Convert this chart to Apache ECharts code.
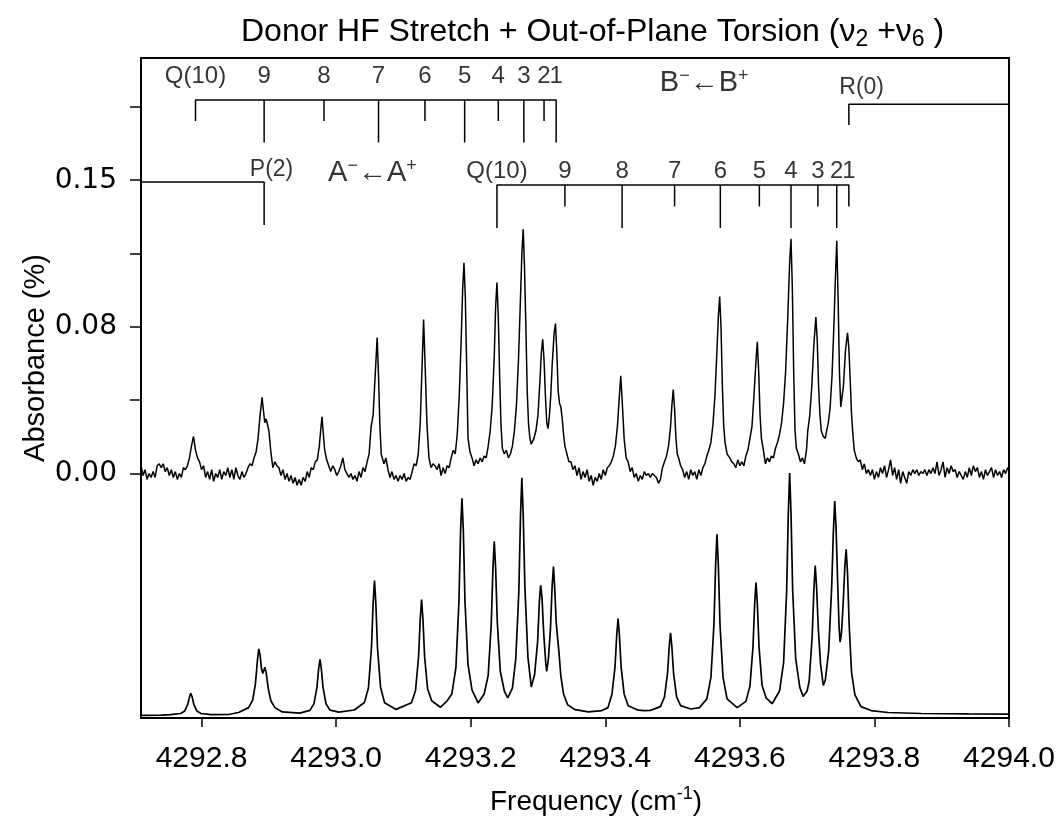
<!DOCTYPE html>
<html>
<head>
<meta charset="utf-8">
<script src="https://cdn.jsdelivr.net/npm/echarts@6/dist/echarts.min.js"></script>
<style>
html,body{margin:0;padding:0;background:#fff;}
#chart{width:1058px;height:824px;}
</style>
</head>
<body>
<div id="chart"></div>
<script>
// Axis ranges and tick labels
const freqMin = 4292.71, freqMax = 4294.0;
const absMin = -0.125, absMax = 0.2125;
const xTickValues = [4292.8, 4293.0, 4293.2, 4293.4, 4293.6, 4293.8, 4294.0];
const xTickLabels = ['4292.8', '4293.0', '4293.2', '4293.4', '4293.6', '4293.8', '4294.0'];
const yTickValues = [0, 0.075, 0.15];
const yTickLabels = ['0.00', '0.08', '0.15'];
const yMinorTicks = [0.0375, 0.1125, 0.1875];

// Observed spectrum: [frequency (cm-1), absorbance (%)]
const measured = [
  [4292.710,0.004],[4292.713,-0.001],[4292.716,0.002],[4292.719,-0.003],[4292.722,0.000],[4292.725,-0.002],
  [4292.728,0.001],[4292.731,-0.002],[4292.734,0.004],[4292.737,0.005],[4292.740,0.003],[4292.743,0.005],
  [4292.746,0.001],[4292.749,0.003],[4292.752,-0.001],[4292.755,0.002],[4292.758,-0.002],[4292.761,0.001],
  [4292.764,-0.003],[4292.767,0.000],[4292.770,-0.002],[4292.773,0.003],[4292.776,0.002],
  [4292.779,0.004],[4292.782,0.008],[4292.785,0.014],[4292.788,0.019],[4292.791,0.012],[4292.794,0.008],
  [4292.797,0.006],[4292.800,0.002],
  [4292.803,0.004],[4292.806,-0.002],[4292.809,0.001],[4292.812,-0.003],[4292.815,0.002],[4292.818,-0.004],
  [4292.821,0.000],[4292.824,-0.002],[4292.827,0.002],[4292.830,-0.003],[4292.833,0.001],[4292.836,-0.001],
  [4292.839,0.003],[4292.842,-0.002],[4292.845,0.002],[4292.848,-0.003],[4292.851,0.003],[4292.854,-0.001],
  [4292.857,-0.003],[4292.860,0.001],[4292.863,-0.002],[4292.866,0.000],[4292.869,0.003],[4292.872,0.005],
  [4292.875,0.004],[4292.878,0.008],[4292.881,0.011],[4292.884,0.018],[4292.887,0.030],[4292.890,0.039],
  [4292.892,0.032],[4292.894,0.026],[4292.896,0.028],[4292.898,0.027],[4292.900,0.022],[4292.903,0.011],
  [4292.906,0.003],[4292.909,0.006],
  [4292.912,0.004],[4292.915,0.003],[4292.918,-0.001],[4292.921,0.002],[4292.924,-0.003],[4292.927,0.000],
  [4292.930,-0.004],[4292.933,-0.001],[4292.936,-0.005],[4292.939,-0.002],[4292.942,-0.006],[4292.945,-0.003],
  [4292.948,-0.006],[4292.951,-0.002],[4292.954,-0.004],[4292.957,0.001],[4292.960,-0.002],[4292.963,0.003],
  [4292.966,0.002],[4292.969,0.006],[4292.972,0.007],[4292.975,0.014],[4292.977,0.022],[4292.979,0.029],
  [4292.981,0.020],[4292.983,0.012],[4292.986,0.007],[4292.989,0.004],
  [4292.992,0.001],[4292.995,0.004],[4292.998,0.002],[4293.001,-0.001],[4293.004,0.001],[4293.007,0.004],
  [4293.010,0.008],[4293.013,0.002],[4293.016,0.000],[4293.019,-0.002],[4293.022,0.000],[4293.025,-0.003],
  [4293.028,-0.001],[4293.031,-0.004],[4293.034,0.001],[4293.037,-0.002],[4293.040,0.003],[4293.043,0.001],
  [4293.046,0.006],
  [4293.049,0.010],[4293.052,0.024],[4293.055,0.030],[4293.058,0.050],[4293.061,0.0696],[4293.063,0.050],
  [4293.065,0.025],[4293.067,0.010],[4293.069,0.011],[4293.071,0.005],
  [4293.074,0.008],[4293.077,0.002],[4293.080,-0.002],[4293.083,0.001],[4293.086,-0.003],[4293.089,-0.001],
  [4293.092,-0.004],[4293.095,-0.001],[4293.098,-0.003],[4293.101,0.000],[4293.104,-0.004],[4293.107,-0.002],
  [4293.110,-0.003],[4293.113,0.001],[4293.116,0.005],
  [4293.119,0.004],[4293.122,0.010],[4293.125,0.026],[4293.128,0.058],[4293.130,0.0788],[4293.132,0.058],
  [4293.135,0.025],[4293.138,0.008],[4293.141,0.003],[4293.144,0.005],
  [4293.147,0.004],[4293.150,0.002],[4293.153,0.005],[4293.156,-0.001],[4293.159,0.003],[4293.162,0.000],
  [4293.165,0.004],[4293.168,0.003],[4293.171,0.008],
  [4293.174,0.012],[4293.177,0.010],[4293.180,0.020],[4293.183,0.040],[4293.186,0.070],[4293.188,0.094],
  [4293.190,0.1078],[4293.192,0.090],[4293.194,0.055],[4293.196,0.018],[4293.199,0.011],[4293.202,0.008],
  [4293.205,0.004],[4293.208,0.007],[4293.211,0.005],[4293.214,0.008],[4293.217,0.006],[4293.220,0.009],
  [4293.223,0.008],[4293.226,0.014],
  [4293.229,0.022],[4293.232,0.035],[4293.235,0.060],[4293.237,0.085],[4293.239,0.0977],[4293.241,0.080],
  [4293.243,0.050],[4293.245,0.025],[4293.247,0.013],[4293.250,0.010],[4293.253,0.012],[4293.256,0.008],
  [4293.259,0.010],[4293.262,0.014],
  [4293.265,0.022],[4293.268,0.035],[4293.271,0.058],[4293.274,0.090],[4293.276,0.112],[4293.278,0.1249],
  [4293.280,0.105],[4293.282,0.075],[4293.284,0.042],[4293.286,0.025],[4293.288,0.018],[4293.290,0.015],
  [4293.292,0.016],[4293.294,0.018],
  [4293.297,0.022],[4293.300,0.030],[4293.303,0.048],[4293.305,0.062],[4293.307,0.0686],[4293.309,0.058],
  [4293.311,0.040],[4293.313,0.026],[4293.315,0.023],[4293.317,0.030],
  [4293.319,0.040],[4293.321,0.055],[4293.324,0.072],[4293.326,0.0767],[4293.328,0.062],[4293.330,0.042],
  [4293.332,0.036],[4293.334,0.034],[4293.336,0.028],[4293.338,0.020],[4293.340,0.014],[4293.343,0.010],
  [4293.346,0.006],
  [4293.349,0.006],[4293.352,0.002],[4293.355,0.004],[4293.358,-0.001],[4293.361,0.003],[4293.364,-0.003],
  [4293.367,0.001],[4293.370,-0.002],[4293.373,0.002],[4293.376,-0.004],[4293.379,-0.001],[4293.382,-0.006],
  [4293.385,-0.002],[4293.388,-0.004],[4293.391,0.000],[4293.394,-0.003],[4293.397,0.002],[4293.400,-0.001],
  [4293.403,0.003],[4293.406,0.004],
  [4293.409,0.006],[4293.412,0.009],[4293.415,0.014],[4293.418,0.024],[4293.421,0.040],[4293.423,0.050],
  [4293.425,0.038],[4293.428,0.018],[4293.431,0.008],[4293.434,0.006],
  [4293.437,0.001],[4293.440,0.003],[4293.443,-0.002],[4293.446,0.000],[4293.449,-0.004],[4293.452,-0.001],
  [4293.455,-0.003],[4293.458,0.001],[4293.461,-0.001],[4293.464,0.000],[4293.467,-0.002],[4293.470,0.000],
  [4293.473,-0.001],[4293.476,-0.002],[4293.479,-0.005],[4293.482,-0.003],[4293.485,0.003],[4293.488,0.006],
  [4293.491,0.009],[4293.494,0.014],[4293.497,0.024],[4293.499,0.035],[4293.501,0.043],[4293.503,0.033],
  [4293.505,0.018],[4293.507,0.010],[4293.509,0.008],[4293.512,0.004],
  [4293.515,0.002],[4293.518,-0.002],[4293.521,0.001],[4293.524,-0.003],[4293.527,0.002],[4293.530,-0.001],
  [4293.533,0.001],[4293.536,-0.003],[4293.539,0.002],[4293.542,-0.001],[4293.545,0.003],[4293.548,0.005],
  [4293.551,0.009],
  [4293.554,0.012],[4293.557,0.016],[4293.560,0.025],[4293.563,0.040],[4293.566,0.063],[4293.568,0.080],
  [4293.570,0.0905],[4293.572,0.075],[4293.574,0.045],[4293.576,0.024],[4293.578,0.016],[4293.581,0.010],
  [4293.585,0.008],[4293.588,0.006],[4293.591,0.005],[4293.594,0.003],[4293.597,0.007],[4293.600,0.004],
  [4293.603,0.006],[4293.606,0.004],[4293.609,0.009],
  [4293.612,0.012],[4293.615,0.018],[4293.618,0.024],[4293.621,0.040],[4293.624,0.058],[4293.626,0.0674],
  [4293.628,0.052],[4293.630,0.030],[4293.632,0.018],[4293.635,0.012],[4293.638,0.005],[4293.641,0.008],
  [4293.644,0.006],[4293.647,0.009],[4293.650,0.008],[4293.653,0.013],
  [4293.656,0.016],[4293.659,0.020],[4293.662,0.026],[4293.665,0.036],[4293.668,0.052],[4293.671,0.078],
  [4293.674,0.108],[4293.676,0.120],[4293.678,0.095],[4293.680,0.052],[4293.682,0.022],[4293.684,0.013],
  [4293.687,0.010],[4293.690,0.006],[4293.693,0.008],[4293.696,0.005],[4293.699,0.012],
  [4293.701,0.022],[4293.704,0.030],[4293.707,0.045],[4293.710,0.066],[4293.713,0.080],[4293.715,0.068],
  [4293.717,0.045],[4293.719,0.030],[4293.721,0.022],[4293.724,0.019],[4293.727,0.018],[4293.729,0.022],
  [4293.731,0.025],[4293.734,0.033],[4293.737,0.050],[4293.740,0.078],[4293.742,0.100],[4293.744,0.119],
  [4293.746,0.090],[4293.748,0.052],[4293.750,0.034],[4293.752,0.035],[4293.754,0.045],[4293.757,0.063],
  [4293.760,0.072],[4293.762,0.064],[4293.764,0.048],[4293.766,0.030],[4293.768,0.020],[4293.770,0.012],
  [4293.773,0.008],[4293.776,0.006],[4293.779,0.007],[4293.782,0.002],
  [4293.785,0.005],[4293.788,0.000],[4293.791,0.002],[4293.794,-0.001],[4293.797,0.002],[4293.800,-0.003],
  [4293.803,0.001],[4293.806,-0.002],[4293.809,0.003],[4293.812,0.000],[4293.815,0.004],[4293.818,-0.002],
  [4293.821,0.002],[4293.824,0.007],[4293.827,-0.001],[4293.830,0.003],[4293.833,-0.003],[4293.836,0.002],
  [4293.839,-0.005],[4293.842,0.001],[4293.845,-0.002],[4293.848,-0.005],[4293.851,0.001],[4293.854,-0.001],
  [4293.857,0.002],[4293.860,0.000],[4293.863,0.002],[4293.866,-0.001],[4293.869,0.001],[4293.872,0.000],
  [4293.875,0.002],[4293.878,-0.001],[4293.881,0.002],[4293.884,0.000],[4293.887,0.003],[4293.890,0.000],
  [4293.893,0.006],[4293.896,-0.001],[4293.899,0.002],[4293.902,0.006],[4293.905,-0.002],[4293.908,0.003],
  [4293.911,0.000],[4293.914,0.004],[4293.917,0.001],[4293.920,0.002],[4293.923,-0.002],[4293.926,0.001],
  [4293.929,-0.001],[4293.932,-0.003],[4293.935,0.001],[4293.938,-0.002],[4293.941,0.003],[4293.944,-0.001],
  [4293.947,0.004],[4293.950,0.001],[4293.953,0.003],[4293.956,-0.002],[4293.959,0.001],[4293.962,-0.003],
  [4293.965,0.002],[4293.968,-0.001],[4293.971,0.001],[4293.974,0.003],[4293.977,-0.002],[4293.980,0.002],
  [4293.983,-0.001],[4293.986,0.001],[4293.989,-0.002],[4293.992,0.002],[4293.995,0.000],[4293.998,0.003],
  [4294.000,0.002]
];

// Simulated spectrum: [frequency (cm-1), height above its own baseline]
const simulated = [
  [4292.710,0.0],[4292.740,0.0002],[4292.754,0.0004],[4292.769,0.001],[4292.775,0.0023],[4292.7795,0.0057],
  [4292.782,0.0094],[4292.784,0.0113],[4292.786,0.0094],[4292.7885,0.0057],[4292.793,0.0023],[4292.799,0.001],
  [4292.814,0.0004],[4292.840,0.0005],[4292.855,0.0015],[4292.870,0.004],[4292.876,0.008],[4292.880,0.016],
  [4292.883,0.028],[4292.885,0.034],[4292.887,0.031],[4292.889,0.024],[4292.891,0.0215],[4292.893,0.0235],
  [4292.894,0.0247],[4292.896,0.022],[4292.899,0.014],[4292.903,0.0075],[4292.909,0.004],[4292.920,0.0018],
  [4292.946,0.0012],[4292.961,0.0026],[4292.967,0.0059],[4292.9715,0.0144],[4292.974,0.0238],[4292.976,0.0287],
  [4292.978,0.0238],[4292.9805,0.0144],[4292.985,0.0059],[4292.991,0.0027],[4293.004,0.0017],[4293.027,0.0028],
  [4293.042,0.0066],[4293.048,0.014],[4293.0525,0.0345],[4293.055,0.0573],[4293.057,0.069],[4293.059,0.0573],
  [4293.0615,0.0345],[4293.066,0.0145],[4293.072,0.0065],[4293.089,0.0031],[4293.112,0.0065],[4293.118,0.0128],
  [4293.1225,0.030],[4293.125,0.0493],[4293.127,0.0593],[4293.129,0.0493],[4293.1315,0.030],[4293.136,0.0135],
  [4293.142,0.0075],[4293.155,0.0042],[4293.165,0.0075],[4293.172,0.011],[4293.178,0.0245],[4293.1825,0.058],
  [4293.185,0.095],[4293.187,0.111],[4293.189,0.095],[4293.1915,0.058],[4293.196,0.026],[4293.202,0.013],
  [4293.211,0.0064],[4293.220,0.011],[4293.226,0.0205],[4293.2305,0.0465],[4293.233,0.075],[4293.235,0.089],
  [4293.237,0.0755],[4293.2395,0.048],[4293.244,0.0225],[4293.250,0.0125],[4293.255,0.009],[4293.262,0.014],
  [4293.267,0.029],[4293.2715,0.063],[4293.274,0.102],[4293.276,0.1216],[4293.278,0.103],[4293.2805,0.066],
  [4293.285,0.030],[4293.290,0.0145],[4293.295,0.021],[4293.2995,0.038],[4293.302,0.058],[4293.304,0.0665],
  [4293.306,0.060],[4293.3085,0.042],[4293.3115,0.027],[4293.313,0.0225],[4293.3155,0.029],[4293.3185,0.044],
  [4293.321,0.066],[4293.323,0.0762],[4293.325,0.064],[4293.327,0.048],[4293.329,0.040],[4293.331,0.033],
  [4293.334,0.020],[4293.338,0.011],[4293.344,0.0055],[4293.355,0.003],[4293.375,0.0018],[4293.395,0.0025],
  [4293.404,0.004],[4293.410,0.011],[4293.4145,0.025],[4293.417,0.041],[4293.419,0.0495],[4293.421,0.041],
  [4293.4235,0.025],[4293.428,0.011],[4293.434,0.005],[4293.449,0.0027],[4293.458,0.0025],[4293.467,0.0026],
  [4293.482,0.0045],[4293.488,0.0095],[4293.4925,0.0215],[4293.495,0.035],[4293.497,0.0423],[4293.499,0.035],
  [4293.5015,0.0215],[4293.506,0.0095],[4293.512,0.005],[4293.527,0.0033],[4293.540,0.004],[4293.551,0.0085],
  [4293.557,0.0195],[4293.5615,0.0465],[4293.564,0.077],[4293.566,0.0926],[4293.568,0.077],[4293.5705,0.0465],
  [4293.575,0.0195],[4293.581,0.0085],[4293.596,0.004],[4293.609,0.0072],[4293.615,0.015],[4293.6195,0.035],
  [4293.622,0.057],[4293.624,0.068],[4293.626,0.057],[4293.6285,0.035],[4293.633,0.0155],[4293.639,0.009],
  [4293.648,0.006],[4293.659,0.0125],[4293.665,0.027],[4293.6695,0.063],[4293.672,0.103],[4293.674,0.124],
  [4293.676,0.104],[4293.6785,0.064],[4293.683,0.029],[4293.689,0.0145],[4293.694,0.0097],[4293.700,0.0125],
  [4293.703,0.0175],[4293.7075,0.0405],[4293.710,0.064],[4293.712,0.0767],[4293.714,0.066],[4293.7165,0.045],
  [4293.720,0.026],[4293.724,0.0154],[4293.727,0.018],[4293.732,0.033],[4293.7365,0.066],[4293.739,0.094],
  [4293.741,0.1096],[4293.743,0.096],[4293.745,0.072],[4293.7475,0.045],[4293.749,0.0375],[4293.751,0.042],
  [4293.7535,0.057],[4293.756,0.076],[4293.758,0.085],[4293.760,0.073],[4293.7625,0.046],[4293.766,0.022],
  [4293.771,0.0105],[4293.780,0.0045],[4293.795,0.0025],[4293.820,0.0015],[4293.870,0.001],[4293.940,0.0008],
  [4294.000,0.0007]
];
// Vertical offset of the simulated trace below the observed one
const simOffset = -0.1237;

// Line assignments (frequencies in cm-1)
const bBranchFreqs = [4292.791, 4292.893, 4292.982, 4293.063, 4293.132, 4293.191, 4293.241, 4293.279, 4293.309, 4293.327];
const bBranchLabels = ['Q(10)', '9', '8', '7', '6', '5', '4', '3', '2', '1'];
const aBranchFreqs = [4293.239, 4293.340, 4293.425, 4293.503, 4293.571, 4293.629, 4293.676, 4293.716, 4293.744, 4293.762];
const aBranchLabels = ['Q(10)', '9', '8', '7', '6', '5', '4', '3', '2', '1'];
const p2Freq = 4292.893;
const r0Freq = 4293.762;

// Comb geometry (absorbance units on the plot)
const B_BAR = 0.1910, B_SHORT = 0.1803, B_LONG = 0.1693, B_LABEL = 0.2030;
const A_BAR = 0.1476, A_SHORT = 0.1366, A_LONG = 0.1256, A_LABEL = 0.1545;
const P_BAR = 0.1491, P_END = 0.1271, P_LABEL = 0.1552;
const R_BAR = 0.1888, R_END = 0.1782, R_LABEL = 0.1972;

function combPath(freqs, bar, firstEnd, secondEnd) {
  const pts = [];
  freqs.forEach((f, i) => {
    const end = i % 2 === 0 ? firstEnd : secondEnd;
    if (i === 0) { pts.push([f, end], [f, bar]); }
    else { pts.push([f, bar], [f, end], [f, bar]); }
  });
  return pts;
}
function combLabels(freqs, labels, y) {
  return freqs.map((f, i) => ({ value: [f, y], name: labels[i] }));
}

const black = '#000';
const fontMain = "'Liberation Sans', Arial, Helvetica, sans-serif";

const combLine = (data) => ({
  type: 'line', data, symbol: 'none', silent: true, z: 5,
  lineStyle: { color: black, width: 1.5 }, animation: false
});
const labelSeries = (data, size) => ({
  type: 'scatter', data, symbolSize: 0, silent: true, z: 6, animation: false,
  label: { show: true, position: 'inside', formatter: p => p.name, color: black,
           fontFamily: fontMain, fontSize: size }
});

const chart = echarts.init(document.getElementById('chart'), null, { renderer: 'canvas' });
chart.setOption({
  backgroundColor: '#fff',
  animation: false,
  title: {
    text: '{t|Donor HF Stretch + Out-of-Plane Torsion (ν}{s|2}{t| +ν}{s|6}{t| )}',
    left: 236, top: 8,
    textStyle: {
      fontWeight: 'normal',
      rich: {
        t: { fontFamily: fontMain, fontSize: 32, fontWeight: 'normal', color: black, lineHeight: 38, verticalAlign: 'middle' },
        s: { fontFamily: fontMain, fontSize: 23, fontWeight: 'normal', color: black, lineHeight: 38, verticalAlign: 'bottom', padding: [14, 0, 0, 0] }
      }
    }
  },
  grid: { left: 141, right: 49, top: 58, bottom: 106, show: true, borderColor: black, borderWidth: 2, backgroundColor: 'transparent' },
  xAxis: {
    type: 'value', min: freqMin, max: freqMax,
    axisLine: { show: true, onZero: false, lineStyle: { color: black, width: 2 } },
    axisTick: { show: true, customValues: xTickValues, length: 9, lineStyle: { color: black, width: 1.5 } },
    axisLabel: { customValues: xTickValues, formatter: v => xTickLabels[xTickValues.indexOf(v)],
                 color: black, fontFamily: fontMain, fontSize: 30, margin: 26 },
    splitLine: { show: false }
  },
  yAxis: {
    type: 'value', min: absMin, max: absMax,
    axisLine: { show: true, onZero: false, lineStyle: { color: black, width: 2 } },
    axisTick: { show: true, customValues: yTickValues.concat(yMinorTicks), length: 11, lineStyle: { color: black, width: 1.5 } },
    axisLabel: { customValues: yTickValues, formatter: v => yTickLabels[yTickValues.indexOf(v)],
                 color: black, fontFamily: "'DejaVu Sans', sans-serif", fontSize: 28, margin: 24 },
    splitLine: { show: false }
  },
  graphic: [
    { type: 'text', x: 36, y: 358, rotation: Math.PI / 2,
      style: { text: 'Absorbance (%)', fontFamily: fontMain, fontSize: 29, fill: black, align: 'center', verticalAlign: 'middle' } },
    { type: 'text', x: 596, y: 802,
      style: { text: '{t|Frequency (cm}{s|-1}{t|)}', align: 'center', verticalAlign: 'middle',
        rich: { t: { fontFamily: fontMain, fontSize: 28, fill: black, lineHeight: 34 },
                s: { fontFamily: fontMain, fontSize: 18, fill: black, lineHeight: 34, verticalAlign: 'top', padding: [0, 0, 10, 0] } } } }
  ],
  series: [
    { type: 'line', name: 'observed', data: measured, symbol: 'none', silent: true,
      lineStyle: { color: black, width: 1.5 }, z: 3 },
    { type: 'line', name: 'simulated', data: simulated.map(d => [d[0], d[1] + simOffset]), symbol: 'none', silent: true,
      lineStyle: { color: black, width: 1.7 }, z: 3 },
    combLine(combPath(bBranchFreqs, B_BAR, B_SHORT, B_LONG)),
    combLine(combPath(aBranchFreqs, A_BAR, A_LONG, A_SHORT)),
    combLine([[freqMin, P_BAR], [p2Freq, P_BAR], [p2Freq, P_END]]),
    combLine([[r0Freq, R_END], [r0Freq, R_BAR], [freqMax, R_BAR]]),
    labelSeries(combLabels(bBranchFreqs, bBranchLabels, B_LABEL), 24),
    labelSeries(combLabels(aBranchFreqs, aBranchLabels, A_LABEL), 24),
    labelSeries([{ value: [p2Freq + 0.011, P_LABEL], name: 'P(2)' }, { value: [r0Freq + 0.019, R_LABEL], name: 'R(0)' }], 23),
    { type: 'scatter', symbolSize: 0, silent: true, z: 6,
      data: [{ value: [4293.054, 0.1537], name: 'A' }, { value: [4293.547, 0.1997], name: 'B' }],
      label: { show: true, position: 'inside',
        formatter: p => p.name === 'A' ? '{m|A}{u|−}{m|←A}{u|+}' : '{m|B}{u|−}{m|←B}{u|+}',
        rich: { m: { fontFamily: fontMain, fontSize: 29, color: black, lineHeight: 32 },
                u: { fontFamily: fontMain, fontSize: 18, color: black, lineHeight: 32, verticalAlign: 'top', padding: [0, 0, 14, 0] } } } }
  ]
});
</script>
</body>
</html>
